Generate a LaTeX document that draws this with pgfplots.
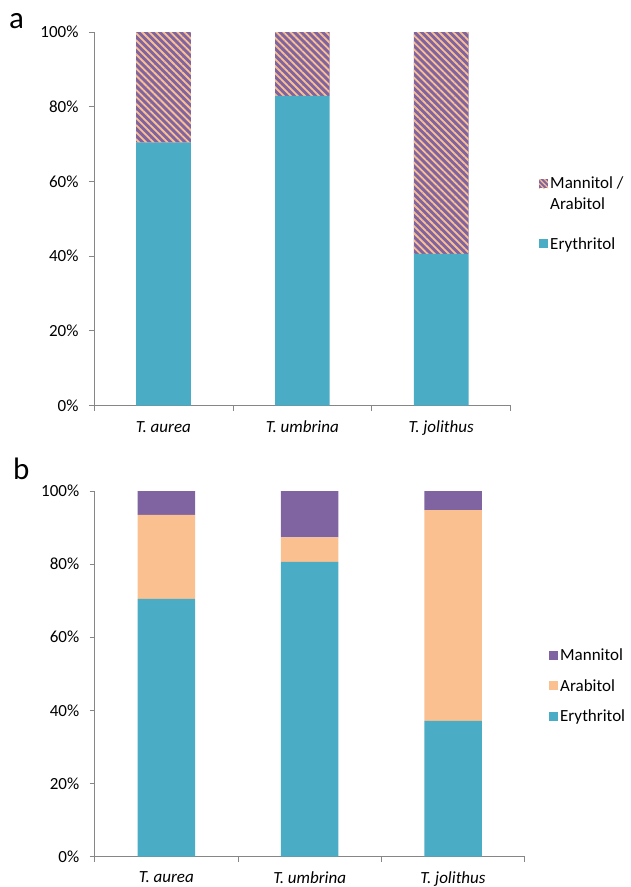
\documentclass[border=0pt]{standalone}
\usepackage{pgfplots}
\pgfplotsset{compat=1.18}
\usepackage{fontspec}
\setmainfont{Carlito}
\usetikzlibrary{patterns.meta}
\definecolor{ery}{HTML}{4BACC6}
\definecolor{man}{HTML}{8064A2}
\definecolor{ara}{HTML}{FAC090}
\definecolor{axgray}{HTML}{868686}

\pgfplotstableread{
x ery ma
0 70.4 29.6
1 82.9 17.1
2 40.6 59.4
}\tabA

\pgfplotstableread{
x ery ara man
0 70.5 23.0 6.5
1 80.6 6.7 12.7
2 37.1 57.7 5.2
}\tabB

\pgfplotsset{
  common/.style={
    scale only axis,
    ymin=0, ymax=100,
    xmin=-0.5, xmax=2.5,
    axis x line=bottom, axis y line=left,
    axis line style={-, draw=axgray, line width=0.8pt},
    ytick={0,20,40,60,80,100},
    yticklabels={0\%,20\%,40\%,60\%,80\%,100\%},
    xtick={-0.5,0.5,1.5,2.5},
    xticklabels={},
    extra x ticks={0,1,2},
    extra x tick labels={\textit{T. aurea},\textit{T. umbrina},\textit{T. jolithus}},
    extra x tick style={major tick length=0pt, xticklabel style={yshift=-12pt}},
    tick align=outside,
    major tick length=5pt,
    tick style={draw=axgray, line width=0.8pt},
    tick label style={font=\fontsize{17}{19}\selectfont},
    /pgf/number format/assume math mode=true,
    yticklabel style={xshift=-7pt},
    ybar stacked,
    reverse legend,
    legend cell align=left,
    legend style={draw=none, fill=none, font=\fontsize{17}{21}\selectfont,
      cells={align=left}, inner sep=0pt,
      nodes={inner xsep=2pt}},
  }
}

\begin{document}
\begin{tikzpicture}
\path[use as bounding box] (0pt,0pt) rectangle (630pt,-887pt);

\node[anchor=base west, inner sep=0pt, font=\fontsize{31}{36}\selectfont] at (9pt,-28pt) {a};
\node[anchor=base west, inner sep=0pt, font=\fontsize{31}{36}\selectfont] at (13pt,-479pt) {b};

\begin{axis}[common,
  at={(94pt,-405.6pt)}, anchor=south west,
  width=416.7pt, height=373.6pt,
  bar width=54.7pt,
  legend style={at={(1.068,0.618)}, anchor=north west, row sep=22pt},
]
\addplot[fill=ery, draw=none, legend image code/.code={\fill[ery] (0pt,-4.5pt) rectangle (9pt,4.5pt);}]
  table[x=x, y=ery] {\tabA};
\addlegendentry{Erythritol}
\addplot[draw=none, preaction={fill=man},
  pattern={Lines[angle=-45, distance=5pt, line width=1.8pt]}, pattern color=ara,
  legend image code/.code={\fill[man] (0pt,6pt) rectangle (9pt,15pt);
     \fill[pattern={Lines[angle=-45, distance=3.5pt, line width=1.2pt]}, pattern color=ara] (0pt,6pt) rectangle (9pt,15pt);}]
  table[x=x, y=ma] {\tabA};
\addlegendentry{Mannitol /\\Arabitol}
\end{axis}

\begin{axis}[common,
  at={(94.7pt,-856.5pt)}, anchor=south west,
  width=430pt, height=365.5pt,
  bar width=57.5pt,
  legend style={at={(1.0565,0.574)}, anchor=north west, row sep=13pt},
]
\addplot[fill=ery, draw=none, legend image code/.code={\fill[ery] (0pt,-4.5pt) rectangle (9pt,4.5pt);}]
  table[x=x, y=ery] {\tabB};
\addlegendentry{Erythritol}
\addplot[fill=ara, draw=none, legend image code/.code={\fill[ara] (0pt,-4.5pt) rectangle (9pt,4.5pt);}]
  table[x=x, y=ara] {\tabB};
\addlegendentry{Arabitol}
\addplot[fill=man, draw=none, legend image code/.code={\fill[man] (0pt,-4.5pt) rectangle (9pt,4.5pt);}]
  table[x=x, y=man] {\tabB};
\addlegendentry{Mannitol}
\end{axis}
\end{tikzpicture}
\end{document}
